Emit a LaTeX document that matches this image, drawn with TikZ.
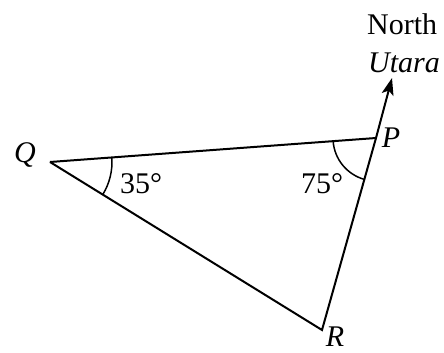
\documentclass[tikz,border=0pt]{standalone}
\usepackage{fontspec}
\setmainfont{Liberation Serif}
\usetikzlibrary{arrows.meta,calc}
\begin{document}
\begin{tikzpicture}[x=1pt,y=-1pt,
  edge/.style={line width=2pt},
  arcline/.style={line width=1.5pt},
  lbl/.style={font=\fontsize{30}{32}\selectfont, inner sep=0pt, anchor=base},
  ilbl/.style={lbl, font=\fontsize{30}{32}\selectfont\itshape}]
\useasboundingbox (0,0) rectangle (444,353);
\coordinate (Q) at (50,162);
\coordinate (P) at (376,138);
\coordinate (R) at (322,330);
\coordinate (N) at (392,78);
\draw[edge, line join=miter] (Q) -- (P);
\draw[edge, line join=miter] (Q) -- (R) -- (P);
\draw[edge, -{Stealth[length=17pt,width=12pt,inset=4pt]}] (P) -- (N);
% angle arcs
\draw[arcline] ($(Q)!62pt!(P)$) arc[start angle=-4.2, end angle=32, radius=62];
\draw[arcline] ($(P)!43pt!(Q)$) arc[start angle=175.8, end angle=105.6, radius=43];
\node[ilbl] (q) at (25,162) {Q};
\node[ilbl] (p) at (391,147) {P};
\node[ilbl] (r) at (335,346) {R};
\node[lbl] (a35) at (141,193) {35°};
\node[lbl] (a75) at (322,193) {75°};
\node[lbl, anchor=base west] (north) at (367,35) {North};
\node[ilbl, anchor=base west] (utara) at (368,72) {Utara};
\end{tikzpicture}
\end{document}
